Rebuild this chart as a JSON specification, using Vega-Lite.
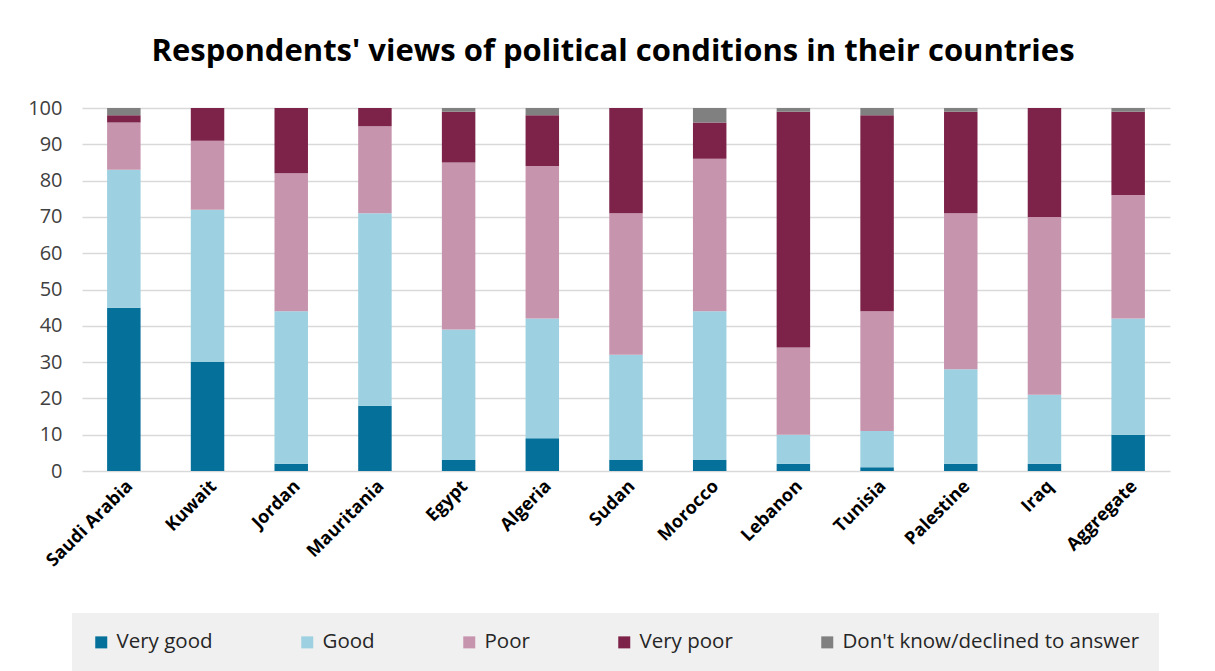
{
  "$schema": "https://vega.github.io/schema/vega-lite/v6.json",
  "autosize": {"type": "none"},
  "width": 1088,
  "height": 363,
  "padding": {"left": 82, "top": 108, "right": 45, "bottom": 200},
  "background": "white",
  "title": {
    "text": "Respondents' views of political conditions in their countries",
    "font": "Open Sans",
    "fontSize": 31,
    "fontWeight": "bold",
    "color": "#000000",
    "anchor": "middle",
    "frame": "group",
    "dx": -13,
    "offset": 30
  },
  "data": {
    "values": [
      {"country": "Saudi Arabia", "response": "Very good", "value": 45},
      {"country": "Saudi Arabia", "response": "Good", "value": 38},
      {"country": "Saudi Arabia", "response": "Poor", "value": 13},
      {"country": "Saudi Arabia", "response": "Very poor", "value": 2},
      {"country": "Saudi Arabia", "response": "Don't know/declined to answer", "value": 2},
      {"country": "Kuwait", "response": "Very good", "value": 30},
      {"country": "Kuwait", "response": "Good", "value": 42},
      {"country": "Kuwait", "response": "Poor", "value": 19},
      {"country": "Kuwait", "response": "Very poor", "value": 9},
      {"country": "Kuwait", "response": "Don't know/declined to answer", "value": 0},
      {"country": "Jordan", "response": "Very good", "value": 2},
      {"country": "Jordan", "response": "Good", "value": 42},
      {"country": "Jordan", "response": "Poor", "value": 38},
      {"country": "Jordan", "response": "Very poor", "value": 18},
      {"country": "Jordan", "response": "Don't know/declined to answer", "value": 0},
      {"country": "Mauritania", "response": "Very good", "value": 18},
      {"country": "Mauritania", "response": "Good", "value": 53},
      {"country": "Mauritania", "response": "Poor", "value": 24},
      {"country": "Mauritania", "response": "Very poor", "value": 5},
      {"country": "Mauritania", "response": "Don't know/declined to answer", "value": 0},
      {"country": "Egypt", "response": "Very good", "value": 3},
      {"country": "Egypt", "response": "Good", "value": 36},
      {"country": "Egypt", "response": "Poor", "value": 46},
      {"country": "Egypt", "response": "Very poor", "value": 14},
      {"country": "Egypt", "response": "Don't know/declined to answer", "value": 1},
      {"country": "Algeria", "response": "Very good", "value": 9},
      {"country": "Algeria", "response": "Good", "value": 33},
      {"country": "Algeria", "response": "Poor", "value": 42},
      {"country": "Algeria", "response": "Very poor", "value": 14},
      {"country": "Algeria", "response": "Don't know/declined to answer", "value": 2},
      {"country": "Sudan", "response": "Very good", "value": 3},
      {"country": "Sudan", "response": "Good", "value": 29},
      {"country": "Sudan", "response": "Poor", "value": 39},
      {"country": "Sudan", "response": "Very poor", "value": 29},
      {"country": "Sudan", "response": "Don't know/declined to answer", "value": 0},
      {"country": "Morocco", "response": "Very good", "value": 3},
      {"country": "Morocco", "response": "Good", "value": 41},
      {"country": "Morocco", "response": "Poor", "value": 42},
      {"country": "Morocco", "response": "Very poor", "value": 10},
      {"country": "Morocco", "response": "Don't know/declined to answer", "value": 4},
      {"country": "Lebanon", "response": "Very good", "value": 2},
      {"country": "Lebanon", "response": "Good", "value": 8},
      {"country": "Lebanon", "response": "Poor", "value": 24},
      {"country": "Lebanon", "response": "Very poor", "value": 65},
      {"country": "Lebanon", "response": "Don't know/declined to answer", "value": 1},
      {"country": "Tunisia", "response": "Very good", "value": 1},
      {"country": "Tunisia", "response": "Good", "value": 10},
      {"country": "Tunisia", "response": "Poor", "value": 33},
      {"country": "Tunisia", "response": "Very poor", "value": 54},
      {"country": "Tunisia", "response": "Don't know/declined to answer", "value": 2},
      {"country": "Palestine", "response": "Very good", "value": 2},
      {"country": "Palestine", "response": "Good", "value": 26},
      {"country": "Palestine", "response": "Poor", "value": 43},
      {"country": "Palestine", "response": "Very poor", "value": 28},
      {"country": "Palestine", "response": "Don't know/declined to answer", "value": 1},
      {"country": "Iraq", "response": "Very good", "value": 2},
      {"country": "Iraq", "response": "Good", "value": 19},
      {"country": "Iraq", "response": "Poor", "value": 49},
      {"country": "Iraq", "response": "Very poor", "value": 30},
      {"country": "Iraq", "response": "Don't know/declined to answer", "value": 0},
      {"country": "Aggregate", "response": "Very good", "value": 10},
      {"country": "Aggregate", "response": "Good", "value": 32},
      {"country": "Aggregate", "response": "Poor", "value": 34},
      {"country": "Aggregate", "response": "Very poor", "value": 23},
      {"country": "Aggregate", "response": "Don't know/declined to answer", "value": 1}
    ]
  },
  "transform": [
    {
      "lookup": "response",
      "from": {
        "data": {
          "values": [
            {"response": "Very good", "rank": 1},
            {"response": "Good", "rank": 2},
            {"response": "Poor", "rank": 3},
            {"response": "Very poor", "rank": 4},
            {"response": "Don't know/declined to answer", "rank": 5}
          ]
        },
        "key": "response",
        "fields": ["rank"]
      }
    }
  ],
  "mark": {"type": "bar"},
  "encoding": {
    "x": {
      "field": "country",
      "type": "nominal",
      "sort": null,
      "scale": {"paddingInner": 0.6, "paddingOuter": 0.3},
      "axis": {
        "title": null,
        "labelAngle": -45,
        "labelAlign": "right",
        "labelBaseline": "top",
        "labelFont": "Open Sans",
        "labelFontSize": 18,
        "labelFontWeight": "bold",
        "labelColor": "#000000",
        "labelPadding": 6,
        "ticks": false,
        "domain": false,
        "grid": false
      }
    },
    "y": {
      "field": "value",
      "type": "quantitative",
      "stack": "zero",
      "scale": {"domain": [0, 100], "nice": false},
      "axis": {
        "title": null,
        "values": [0, 10, 20, 30, 40, 50, 60, 70, 80, 90, 100],
        "labelFont": "Open Sans",
        "labelFontSize": 20,
        "labelColor": "#404040",
        "labelPadding": 20,
        "ticks": false,
        "domain": false,
        "grid": true,
        "gridColor": "#d9d9d9",
        "gridWidth": 1.5
      }
    },
    "color": {
      "field": "response",
      "type": "nominal",
      "sort": ["Very good", "Good", "Poor", "Very poor", "Don't know/declined to answer"],
      "scale": {
        "domain": ["Very good", "Good", "Poor", "Very poor", "Don't know/declined to answer"],
        "range": ["#05709a", "#9dd0e0", "#c794ae", "#7d2248", "#808080"]
      },
      "legend": {
        "title": null,
        "orient": "none",
        "direction": "horizontal",
        "legendX": -10,
        "legendY": 505,
        "padding": 19,
        "fillColor": "#f0f0f0",
        "symbolType": "square",
        "symbolSize": 144,
        "symbolStrokeWidth": 0,
        "symbolOpacity": 1,
        "labelFont": "Open Sans",
        "labelFontSize": 20.5,
        "labelColor": "#262626",
        "labelLimit": 500,
        "labelOffset": 5,
        "columnPadding": 84
      }
    },
    "order": {"field": "rank", "type": "quantitative", "sort": "ascending"}
  },
  "config": {
    "view": {"stroke": null}
  }
}
